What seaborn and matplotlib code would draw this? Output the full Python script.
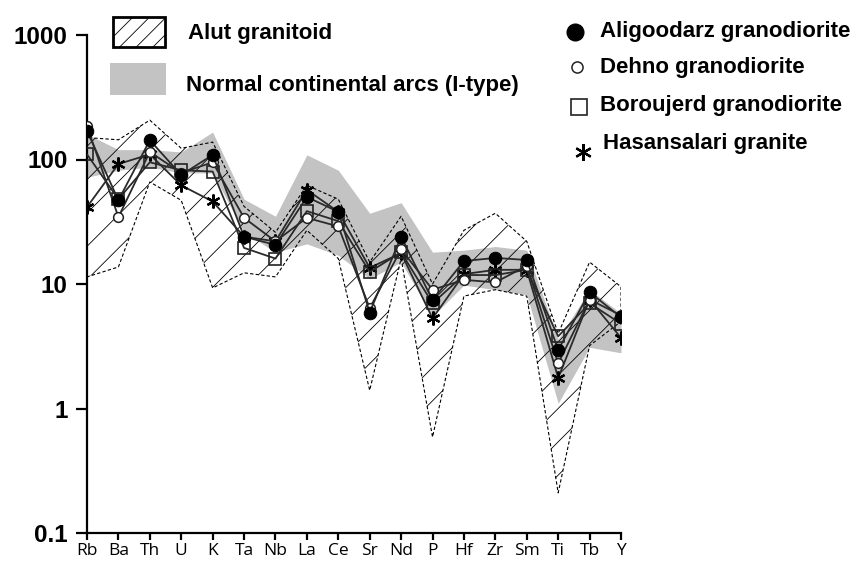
import numpy as np
import pandas as pd
import matplotlib
matplotlib.use("Agg")
import matplotlib.pyplot as plt
import seaborn as sns
from matplotlib.patches import Rectangle
from matplotlib.lines import Line2D
from matplotlib.ticker import NullLocator, FixedLocator, FixedFormatter

# ---------------- data ----------------
elements = ['Rb', 'Ba', 'Th', 'U', 'K', 'Ta', 'Nb', 'La', 'Ce', 'Sr', 'Nd', 'P',
            'Hf', 'Zr', 'Sm', 'Ti', 'Tb', 'Y']

aligoodarz = [170, 47, 143, 75, 109, 24, 20.6, 50, 38, 5.9, 24, 7.4, 15.3, 16.2, 15.6, 2.95, 8.6, 5.4]
dehno = [185, 34.5, 115, 78, 95, 34, 22, 34, 29, 6.4, 19, 9, 10.8, 10.3, 14, 2.3, 7.5, 5.6]
boroujerd = [110, 48, 95, 82, 80, 19.5, 16, 38.5, 32, 12.5, 18, 7, 11.8, 11.8, 13, 3.8, 7, 4.8]
hasansalari = [41.5, 92, 110, 62, 46, 24, 22, 57, 38, 13.5, 17.7, 5.3, 12, 13, 13, 1.76, 7.5, 3.7]

alut_upper = [150, 144, 207, 123, 138, 42, 26, 62, 48, 15, 35, 10, 27, 37, 22, 4.0, 15, 9.5]
alut_lower = [11.4, 13.7, 66, 47, 9.3, 12.3, 11.4, 27, 16, 1.4, 16, 0.59, 8, 9, 8, 0.21, 3.2, 5]

arc_upper = [160, 120, 120, 115, 166, 48, 35, 109, 82, 37, 45, 18, 18.7, 20, 18.7, 3.6, 9, 5.8]
arc_lower = [72, 82, 87, 78, 78, 26, 18, 21, 17, 11, 15, 5.5, 9.8, 9, 8.2, 1.1, 3.1, 2.8]

y_ticks = [0.1, 1, 10, 100, 1000]
y_tick_labels = ['0.1', '1', '10', '100', '1000']

series_names = ['Aligoodarz granodiorite', 'Dehno granodiorite',
                'Boroujerd granodiorite', 'Hasansalari granite']

# ---------------- style ----------------
sns.set_style('white')
plt.rcParams['font.family'] = ['Liberation Sans', 'DejaVu Sans']
plt.rcParams['hatch.linewidth'] = 0.6
plt.rcParams['text.color'] = 'black'
plt.rcParams['xtick.color'] = 'black'
plt.rcParams['ytick.color'] = 'black'

W, H = 851, 562
fig = plt.figure(figsize=(W / 100, H / 100), dpi=100)
ax = fig.add_axes([87 / W, 1 - 533 / H, (621 - 87) / W, (533 - 35) / H])

idx = np.arange(len(elements))

# shaded fields
ax.fill_between(idx, arc_lower, arc_upper, color='#c3c3c3', linewidth=0, zorder=1)
ax.fill_between(idx, alut_lower, alut_upper, facecolor='none', edgecolor='black',
                hatch='/', linestyle=(0, (3, 2)), linewidth=0.8, zorder=2)

df = pd.DataFrame({
    'x': np.tile(idx, 4),
    'value': aligoodarz + dehno + boroujerd + hasansalari,
    'group': np.repeat(series_names, len(elements)),
})

styles = {
    'Aligoodarz granodiorite': dict(marker='o', markersize=9, markerfacecolor='black',
                                    markeredgecolor='black'),
    'Dehno granodiorite': dict(marker='o', markersize=7, markerfacecolor='white',
                               markeredgecolor='#222222', markeredgewidth=1.1),
    'Boroujerd granodiorite': dict(marker='s', markersize=8.5, markerfacecolor='none',
                                   markeredgecolor='#222222', markeredgewidth=1.2),
    'Hasansalari granite': dict(marker=(6, 2, 0), markersize=10, markerfacecolor='black',
                                markeredgecolor='black', markeredgewidth=1.6),
}
order_z = {'Hasansalari granite': 3, 'Boroujerd granodiorite': 4,
           'Dehno granodiorite': 5, 'Aligoodarz granodiorite': 6}
for name in series_names:
    sub = df[df['group'] == name]
    sns.lineplot(data=sub, x='x', y='value', ax=ax, color='#2a2a2a', linewidth=1.3,
                 legend=False, zorder=order_z[name], **styles[name])

ax.set_yscale('log')
ax.set_ylim(0.1, 1000)
ax.set_xlim(0, len(elements) - 1)
ax.yaxis.set_major_locator(FixedLocator(y_ticks))
ax.yaxis.set_major_formatter(FixedFormatter(y_tick_labels))
ax.yaxis.set_minor_locator(NullLocator())
ax.set_xticks(idx)
ax.set_xticklabels(elements, fontsize=12.5, family=['Open Sans', 'DejaVu Sans'])
for lab in ax.get_yticklabels():
    lab.set_fontsize(17.5)
    lab.set_fontweight('bold')
ax.set_xlabel('')
ax.set_ylabel('')

for s in ['top', 'right']:
    ax.spines[s].set_visible(False)
for s in ['left', 'bottom']:
    ax.spines[s].set_linewidth(1.6)
    ax.spines[s].set_color('black')
ax.tick_params(axis='y', which='major', direction='out', length=8, width=1.6,
               pad=6, left=True, colors='black')
ax.tick_params(axis='x', which='major', direction='out', length=5, width=1.6,
               pad=2, bottom=True, colors='black')
ax.patch.set_alpha(0)

# ---------------- legends (figure pixel coordinates) ----------------
def fx(px):
    return px / W

def fy(py):
    return 1 - py / H

fig.add_artist(Rectangle((fx(113), fy(47)), 52 / W, 30 / H, transform=fig.transFigure,
                         facecolor='white', edgecolor='black', hatch='//',
                         linewidth=2.0))
fig.add_artist(Rectangle((fx(110), fy(95)), 56 / W, 32 / H, transform=fig.transFigure,
                         facecolor='#c3c3c3', edgecolor='none'))
fig.text(fx(188), fy(33), 'Alut granitoid', fontsize=16, fontweight='bold',
         va='center', ha='left', color='black')
fig.text(fx(186), fy(85), 'Normal continental arcs (I-type)', fontsize=16,
         fontweight='bold', va='center', ha='left', color='black')

leg_items = [
    ('Aligoodarz granodiorite', 575, 32, 600, 31),
    ('Dehno granodiorite', 577, 67, 600, 67),
    ('Boroujerd granodiorite', 579, 107, 600, 105),
    ('Hasansalari granite', 583, 152, 603, 143),
]
for name, mx, my, tx, ty in leg_items:
    st = dict(styles[name])
    if name == 'Aligoodarz granodiorite':
        st['markersize'] = 12
    elif name == 'Dehno granodiorite':
        st['markersize'] = 8
    elif name == 'Boroujerd granodiorite':
        st['markersize'] = 11
    else:
        st['markersize'] = 12
    fig.add_artist(Line2D([fx(mx)], [fy(my)], transform=fig.transFigure,
                          linestyle='none', **st))
    fig.text(fx(tx), fy(ty), name, fontsize=16, fontweight='bold',
             va='center', ha='left', color='black')

fig.savefig('out.png', dpi=100)
